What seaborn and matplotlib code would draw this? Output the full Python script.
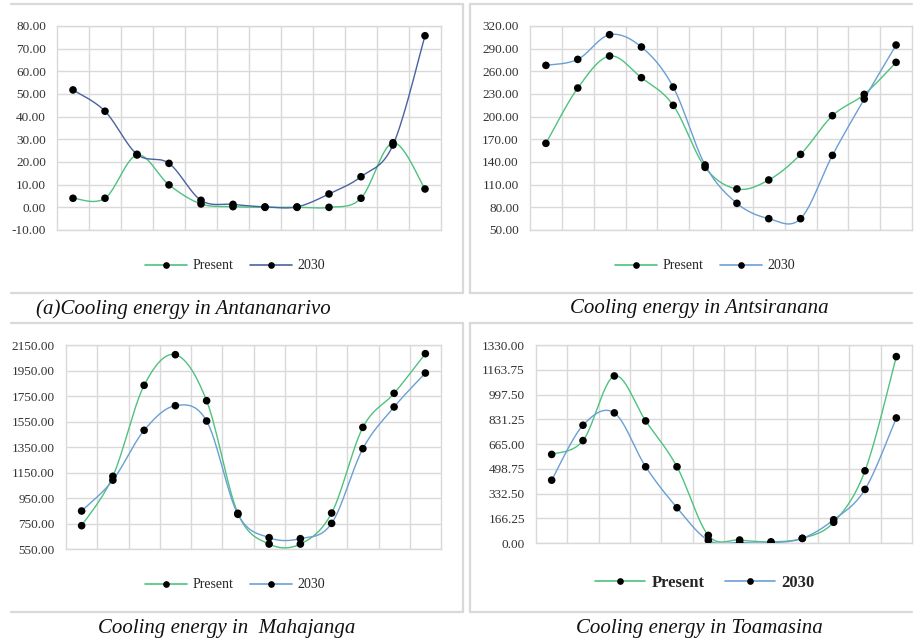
import numpy as np
import pandas as pd
import matplotlib
matplotlib.use("Agg")
import matplotlib.pyplot as plt
from matplotlib.lines import Line2D
import seaborn as sns

months = list(range(1, 13))
series_names = ["Present", "2030"]

antananarivo_present = [4.0, 4.0, 23.1, 9.9, 1.5, 0.3, 0.0, 0.0, 0.0, 4.0, 28.5, 8.1]
antananarivo_2030 = [51.8, 42.4, 23.4, 19.4, 3.1, 1.3, 0.2, 0.2, 5.9, 13.5, 27.5, 75.7]

antsiranana_present = [164.7, 237.9, 280.3, 251.6, 215.0, 132.9, 104.3, 116.2, 150.1, 201.3, 229.5, 271.9]
antsiranana_2030 = [267.9, 275.8, 308.5, 292.2, 239.2, 136.0, 85.3, 65.0, 65.0, 148.8, 223.4, 294.8]

mahajanga_present = [733, 1120, 1834, 2074, 1713, 830, 589, 589, 832, 1504, 1771, 2082]
mahajanga_2030 = [848, 1090, 1481, 1674, 1554, 822, 639, 631, 751, 1337, 1664, 1930]

toamasina_present = [595, 688, 1122, 820, 512, 51, 20, 8, 31, 139, 485, 1252]
toamasina_2030 = [422, 791, 874, 512, 237, 18, 3, 2, 31, 156, 360, 840]

captions = ["(a)Cooling energy in Antananarivo", "Cooling energy in Antsiranana",
            "Cooling energy in  Mahajanga", "Cooling energy in Toamasina"]

yticks_1 = [-10, 0, 10, 20, 30, 40, 50, 60, 70, 80]
yticks_2 = [50, 80, 110, 140, 170, 200, 230, 260, 290, 320]
yticks_3 = [550, 750, 950, 1150, 1350, 1550, 1750, 1950, 2150]
yticks_4 = [0, 166.25, 332.5, 498.75, 665, 831.25, 997.5, 1163.75, 1330]

GREEN = "#4EC27E"
BLUE_DARK = "#4A62A0"
BLUE_LIGHT = "#6A9FD4"
GRID = "#D9D9D9"

W, H = 919, 642

sns.set_theme(style="white")
plt.rcParams["font.family"] = ["Liberation Serif", "DejaVu Serif"]


def smooth(xs, ys, n=30):
    xs = np.asarray(xs, float)
    ys = np.asarray(ys, float)
    P = np.column_stack([xs, ys])
    Pe = np.vstack([P[0], P, P[-1]])
    out = []
    t = np.linspace(0, 1, n)[:, None]
    for i in range(len(P) - 1):
        p0, p1, p2, p3 = Pe[i], Pe[i + 1], Pe[i + 2], Pe[i + 3]
        c1 = p1 + (p2 - p0) / 6.0
        c2 = p2 - (p3 - p1) / 6.0
        seg = ((1 - t) ** 3) * p1 + 3 * ((1 - t) ** 2) * t * c1 + 3 * (1 - t) * t ** 2 * c2 + t ** 3 * p2
        out.append(seg if i == 0 else seg[1:])
    arr = np.vstack(out)
    return arr[:, 0], arr[:, 1]


def fx(px):
    return px / W


def fy(py):
    return 1 - py / H


fig = plt.figure(figsize=(W / 100, H / 100), dpi=100)

panels = [
    dict(rect=(57, 26, 441, 230), data=(antananarivo_present, antananarivo_2030), yt=yticks_1,
         blue=BLUE_DARK, leg=(235, 266), legsize=10, legbold=False),
    dict(rect=(530, 26, 912, 230), data=(antsiranana_present, antsiranana_2030), yt=yticks_2,
         blue=BLUE_LIGHT, leg=(705, 266), legsize=10, legbold=False),
    dict(rect=(66, 345, 441, 549), data=(mahajanga_present, mahajanga_2030), yt=yticks_3,
         blue=BLUE_LIGHT, leg=(235, 585), legsize=10, legbold=False),
    dict(rect=(536, 345, 912, 543), data=(toamasina_present, toamasina_2030), yt=yticks_4,
         blue=BLUE_LIGHT, leg=(705, 583), legsize=12, legbold=True),
]

for p in panels:
    x0, y0, x1, y1 = p["rect"]
    ax = fig.add_axes([fx(x0), fy(y1), (x1 - x0) / W, (y1 - y0) / H])
    pres, fut = p["data"]
    colors = [GREEN, p["blue"]]
    xs = np.arange(len(months))
    for vals, c, name in zip([pres, fut], colors, series_names):
        sx, sy = smooth(xs, vals)
        sns.lineplot(x=sx, y=sy, sort=False, estimator=None, color=c, lw=1.0, ax=ax, zorder=3)
    for vals in [pres, fut]:
        df = pd.DataFrame({"m": xs, "v": vals})
        sns.scatterplot(data=df, x="m", y="v", color="black", s=30, edgecolor="none", ax=ax, zorder=4)
    yt = p["yt"]
    ax.set_xlim(-0.5, len(months) - 0.5)
    ax.set_ylim(yt[0], yt[-1])
    ax.set_yticks(yt)
    ax.set_yticklabels([f"{v:.2f}" for v in yt], fontsize=9.5, color="#333333")
    ax.set_xticks(np.arange(0.5, len(months) - 0.5, 1.0))
    ax.set_xticklabels([])
    ax.tick_params(axis="both", length=0, pad=8)
    ax.grid(True, color=GRID, lw=1.0)
    ax.set_axisbelow(True)
    for s in ax.spines.values():
        s.set_color(GRID)
        s.set_linewidth(1.0)
    ax.set_xlabel("")
    ax.set_ylabel("")
    handles = [Line2D([], [], color=c, lw=1.2, marker="o", markersize=3.8,
                      markerfacecolor="black", markeredgecolor="black") for c in colors]
    lx, ly = p["leg"]
    bx = (lx - x0) / (x1 - x0)
    by = (y1 - ly) / (y1 - y0)
    ax.legend(handles, series_names, loc="center", bbox_to_anchor=(bx, by), ncol=2,
              frameon=False, handlelength=3.0, columnspacing=1.2, handletextpad=0.4,
              prop=dict(family="Liberation Serif", size=p["legsize"],
                        weight="bold" if p["legbold"] else "normal"))

# panel frames
def hline(y, xa, xb):
    fig.add_artist(Line2D([fx(xa), fx(xb)], [fy(y), fy(y)], color=GRID, lw=1.6))


def vline(x, ya, yb):
    fig.add_artist(Line2D([fx(x), fx(x)], [fy(ya), fy(yb)], color=GRID, lw=1.6))


hline(4, 11, 463); vline(463, 4, 293); hline(293, 11, 463)
vline(470, 4, 293); hline(4, 470, 912); hline(293, 470, 912)
hline(323, 11, 463); vline(463, 323, 612); hline(612, 11, 463)
vline(470, 323, 612); hline(323, 470, 912); hline(612, 470, 912)

cap_kw = dict(fontstyle="italic", fontsize=15, color="#111111", va="center",
              family=["Liberation Serif", "DejaVu Serif"])
fig.text(fx(36), fy(309), captions[0], ha="left", **cap_kw)
fig.text(fx(699), fy(309), captions[1], ha="center", **cap_kw)
fig.text(fx(227), fy(629), captions[2], ha="center", **cap_kw)
fig.text(fx(699), fy(629), captions[3], ha="center", **cap_kw)

fig.savefig("out.png", dpi=100)
